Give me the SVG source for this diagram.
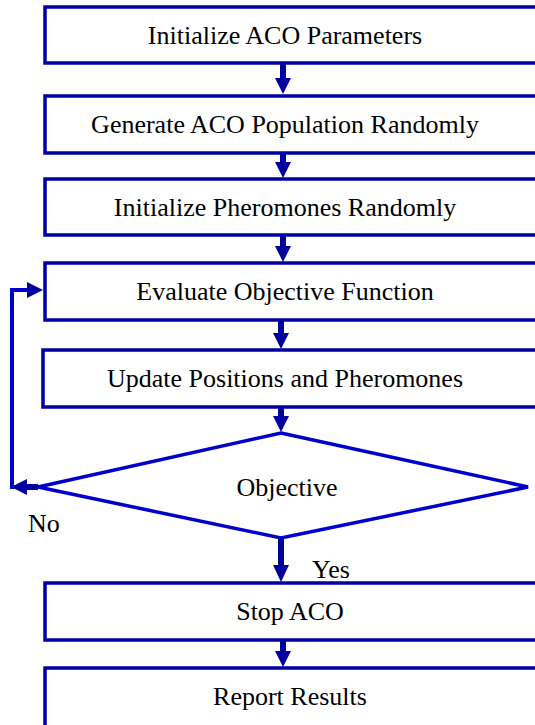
<svg xmlns="http://www.w3.org/2000/svg" width="535" height="725" viewBox="0 0 535 725">
<style>
.box{fill:#fff;stroke:#0000A0;stroke-width:3.5}
.dia{fill:#fff;stroke:#0000CC;stroke-width:3.5}
.t{font-family:"Liberation Serif","Times New Roman",serif;font-size:26px;fill:#000;text-anchor:middle}
.l{font-family:"Liberation Serif","Times New Roman",serif;font-size:26px;fill:#000}
.sh{stroke:#0000A0;stroke-width:6;fill:none}
.loop{stroke:#0000CC;stroke-width:4;fill:none}
.ah{fill:#0000A0}
</style>
<rect width="535" height="725" fill="#fff"/>
<g id="connectors">
<line class="sh" x1="283" y1="64" x2="283" y2="80"/><polygon class="ah" points="275,78 291,78 283,94"/>
<line class="sh" x1="283" y1="154" x2="283" y2="164"/><polygon class="ah" points="275,162 291,162 283,178"/>
<line class="sh" x1="283" y1="236" x2="283" y2="248"/><polygon class="ah" points="275,246 291,246 283,262"/>
<line class="sh" x1="281" y1="321" x2="281" y2="334"/><polygon class="ah" points="273,333 289,333 281,349"/>
<line class="sh" x1="281" y1="408" x2="281" y2="418"/><polygon class="ah" points="273,416 289,416 281,432"/>
<line class="sh" x1="281" y1="539" x2="281" y2="566"/><polygon class="ah" points="273,565 289,565 281,582"/>
<line class="sh" x1="283" y1="641" x2="283" y2="652"/><polygon class="ah" points="275,651 291,651 283,667"/>
<polyline class="loop" points="38,487 12,487 12,290 30,290"/>
<line class="sh" x1="25" y1="487" x2="38" y2="487"/>
<polygon class="ah" points="27,479 27,495 11,487"/>
<polygon class="ah" points="27,282 27,298 43,290"/>
</g>
<g id="n1"><rect class="box" x="45" y="7" width="495" height="56"/><text class="t" x="285" y="44">Initialize ACO Parameters</text></g>
<g id="n2"><rect class="box" x="45" y="96" width="495" height="57"/><text class="t" x="285" y="133">Generate ACO Population Randomly</text></g>
<g id="n3"><rect class="box" x="45" y="179" width="495" height="56"/><text class="t" x="285" y="216">Initialize Pheromones Randomly</text></g>
<g id="n4"><rect class="box" x="45" y="263" width="495" height="57"/><text class="t" x="285" y="300">Evaluate Objective Function</text></g>
<g id="n5"><rect class="box" x="43" y="350" width="497" height="57"/><text class="t" x="285" y="387">Update Positions and Pheromones</text></g>
<g id="n6"><polygon class="dia" points="281,433 528,487 281,538 38,487"/><text class="t" x="287" y="496">Objective</text></g>
<g id="n7"><rect class="box" x="45" y="583" width="495" height="57"/><text class="t" x="290" y="620">Stop ACO</text></g>
<g id="n8"><rect class="box" x="45" y="668" width="495" height="60"/><text class="t" x="290" y="705">Report Results</text></g>
<text class="l" x="28" y="532">No</text>
<text class="l" x="312" y="578">Yes</text>
</svg>
